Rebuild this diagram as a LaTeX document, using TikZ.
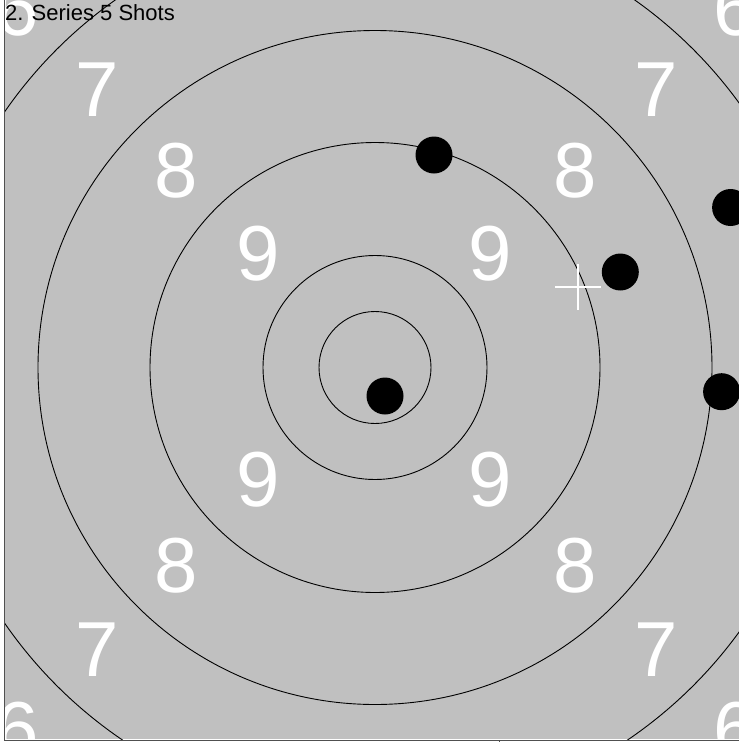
\documentclass[tikz,border=0pt]{standalone}
\usepackage{fontspec}
\setmainfont{Liberation Sans}
\definecolor{targetgray}{RGB}{192,192,192}
\definecolor{axisgray}{RGB}{80,80,80}
\begin{document}
\begin{tikzpicture}[x=1pt,y=-1pt,
  ring/.style={draw=black,line width=0.9pt},
  score/.style={text=white,font=\fontsize{78}{78}\selectfont,inner sep=0pt},
  shot/.style={circle,fill=black,minimum size=37pt,inner sep=0pt},
  axisline/.style={draw=axisgray,line width=1pt},
  aim/.style={draw=white,line width=1.8pt}]
\useasboundingbox (0,0) rectangle (739,742);
\fill[white] (0,0) rectangle (739,742);
\fill[targetgray] (5,0) rectangle (739,739);
\begin{scope}
  \clip (5,0) rectangle (739,739);
  \coordinate (c) at (375,367.5);
  \foreach \r in {56,112,225,337,450,562} \draw[ring] (c) circle[radius=\r];
  % ring scores
  \node[score] (s9a) at (258,254) {9};
  \node[score] (s9b) at (490,254) {9};
  \node[score] (s9c) at (258,480) {9};
  \node[score] (s9d) at (490,480) {9};
  \node[score] (s8a) at (176,171) {8};
  \node[score] (s8b) at (575,171) {8};
  \node[score] (s8c) at (176,566) {8};
  \node[score] (s8d) at (575,566) {8};
  \node[score] (s7a) at (97,90) {7};
  \node[score] (s7b) at (656,90) {7};
  \node[score] (s7c) at (97,650) {7};
  \node[score] (s7d) at (656,650) {7};
  \node[score] (s6a) at (17,9) {6};
  \node[score] (s6b) at (735,9) {6};
  \node[score] (s6c) at (17,730) {6};
  \node[score] (s6d) at (735,730) {6};
  % aiming cross
  \coordinate (cross) at (578.3,286.7);
  \draw[aim] ([xshift=-23pt]cross) -- ([xshift=23pt]cross);
  \draw[aim] ([yshift=-23pt]cross) -- ([yshift=23pt]cross);
\end{scope}
% shots
\node[shot] (shot1) at (434,155) {};
\node[shot] (shot2) at (730.6,207.5) {};
\node[shot] (shot3) at (620.3,272) {};
\node[shot] (shot4) at (721.6,391.7) {};
\node[shot] (shot5) at (385,396) {};
% axes
\coordinate (ax0) at (4.5,0);
\coordinate (ax1) at (4.5,740);
\coordinate (ax2) at (739,740);
\coordinate (tk0) at (499,740);
\coordinate (tk1) at (499,742);
\draw[axisline] (ax0) -- (ax1) -- (ax2);
\draw[axisline] (tk0) -- (tk1);
% title
\node[anchor=base west,inner sep=0pt,font=\fontsize{22}{22}\selectfont] (title) at (5,20) {2. Series 5 Shots};
\end{tikzpicture}
\end{document}
